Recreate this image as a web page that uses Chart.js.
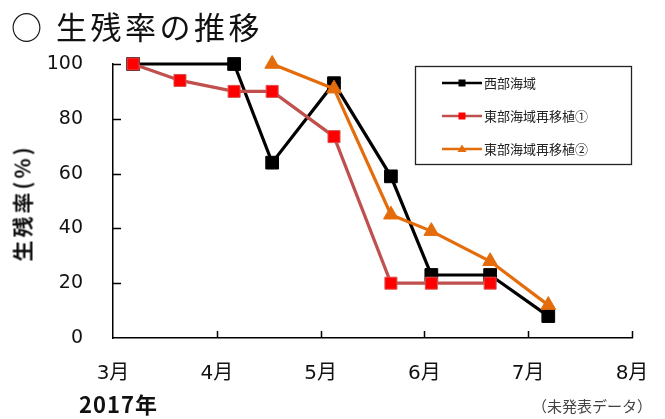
<!DOCTYPE html>
<html>
<head>
<meta charset="utf-8">
<script src="https://cdn.jsdelivr.net/npm/chart.js@4/dist/chart.umd.min.js"></script>
<style>
  html, body { margin: 0; padding: 0; background: #fff; }
  #wrap { position: relative; width: 665px; height: 419px; overflow: hidden; }
  #c { position: absolute; left: 0; top: 0; }
  .t { position: absolute; white-space: nowrap; font-family: "Noto Sans CJK JP", "Noto Sans", sans-serif; color: #111; line-height: 1; }
  #ytitle { left: 22px; top: 203px; font-size: 21px; font-weight: bold; letter-spacing: 3px;
            transform: translate(-50%, -50%) rotate(-90deg); }
</style>
</head>
<body>
<div id="wrap">
  <canvas id="c" width="665" height="419"></canvas>
  <div class="t" style="left:11px;top:10px;font-size:31px;letter-spacing:3.5px;">○ 生残率の推移</div>
  <div class="t" id="ytitle">生残率(%)</div>
  <div class="t" style="left:79px;top:392px;font-size:22px;font-weight:bold;letter-spacing:1px;">2017年</div>
  <div class="t" style="left:532px;top:398px;font-size:15px;color:#444;">（未発表データ）</div>
</div>
<script>
// Survey dates (2017, month/day)
const surveyDates = ["3/7", "3/21", "4/6", "4/17", "5/5", "5/22", "6/3", "6/20", "7/7"];

// Survival rate (%) per survey date; null = not surveyed
const westSea      = [100, null, 100, 64, 93,   59, 23, 23, 8];
const eastReplant1 = [100, 94,   90,  90, 73.5, 20, 20, 20, null];
const eastReplant2 = [null, null, null, 100, 91, 45, 39, 28, 12];

const seriesNames = ["西部海域", "東部海域再移植①", "東部海域再移植②"];

// Axis ticks
const monthTicks = [3, 4, 5, 6, 7, 8];
const monthLabels = ["3月", "4月", "5月", "6月", "7月", "8月"];
const rateTicks = [0, 20, 40, 60, 80, 100];

// Date -> fractional month position (e.g. 4/16 -> 4.5)
const daysInMonth2017 = {3: 31, 4: 30, 5: 31, 6: 30, 7: 31, 8: 31};
function monthPos(md) {
  const [m, d] = md.split("/").map(Number);
  return m + (d - 1) / daysInMonth2017[m];
}
function toPoints(values) {
  const pts = [];
  values.forEach((v, i) => { if (v !== null) pts.push({ x: monthPos(surveyDates[i]), y: v }); });
  return pts;
}

const styles = [
  { line: "#000000", fill: "#000000", border: "#000000", shape: "rect", radius: 9 },
  { line: "#C0504D", fill: "#FF0000", border: "#D9534F", shape: "rect", radius: 8.5 },
  { line: "#E46C0A", fill: "#E46C0A", border: "#E46C0A", shape: "triangle", radius: 8.5 }
];
const seriesValues = [westSea, eastReplant1, eastReplant2];

const datasets = seriesValues.map((vals, i) => ({
  label: seriesNames[i],
  data: toPoints(vals),
  borderColor: styles[i].line,
  backgroundColor: styles[i].fill,
  borderWidth: 3.2,
  pointStyle: styles[i].shape,
  pointRadius: styles[i].radius,
  pointHoverRadius: styles[i].radius,
  pointBackgroundColor: styles[i].fill,
  pointBorderColor: styles[i].border,
  pointBorderWidth: 1,
  tension: 0,
  spanGaps: true,
  clip: false,
  order: 2 - i
}));

const numFont = { family: '"DejaVu Sans", "Noto Sans CJK JP", sans-serif', size: 19 };
const monthFont = { family: '"DejaVu Sans", "Noto Sans CJK JP", sans-serif', size: 20 };

// Inward tick marks on both axes
const innerTicks = {
  id: "innerTicks",
  afterDraw(chart) {
    const { ctx, scales: { x, y } } = chart;
    ctx.save();
    ctx.strokeStyle = "#000";
    ctx.lineWidth = 1.5;
    ctx.beginPath();
    monthTicks.slice(1).forEach(v => {
      const px = Math.round(x.getPixelForValue(v)) + 0.5;
      ctx.moveTo(px, chart.chartArea.bottom);
      ctx.lineTo(px, chart.chartArea.bottom - 7);
    });
    rateTicks.slice(1).forEach(v => {
      const py = Math.round(y.getPixelForValue(v)) + 0.5;
      ctx.moveTo(chart.chartArea.left, py);
      ctx.lineTo(chart.chartArea.left + 8, py);
    });
    ctx.stroke();
    ctx.restore();
  }
};

// Boxed legend with line + marker samples
const boxLegend = {
  id: "boxLegend",
  afterDraw(chart) {
    const ctx = chart.ctx;
    const bx = 415.5, by = 66.5, bw = 216, bh = 98;
    ctx.save();
    ctx.strokeStyle = "#222";
    ctx.lineWidth = 1.3;
    ctx.strokeRect(bx, by, bw, bh);
    const rows = [83, 116, 149];
    ctx.font = '13px "Noto Sans CJK JP", sans-serif';
    ctx.textBaseline = "middle";
    ctx.fillStyle = "#222";
    seriesNames.forEach((name, i) => {
      const s = styles[i], ry = rows[i];
      ctx.strokeStyle = s.line;
      ctx.lineWidth = 2.5;
      ctx.beginPath();
      ctx.moveTo(442, ry);
      ctx.lineTo(482, ry);
      ctx.stroke();
      ctx.fillStyle = s.fill;
      if (s.shape === "rect") {
        ctx.fillRect(458.5, ry - 3.5, 7, 7);
      } else {
        ctx.beginPath();
        ctx.moveTo(462, ry - 4.5);
        ctx.lineTo(466.5, ry + 3);
        ctx.lineTo(457.5, ry + 3);
        ctx.closePath();
        ctx.fill();
      }
      ctx.fillStyle = "#222";
      ctx.fillText(name, 484, ry + 0.5);
    });
    ctx.restore();
  }
};

new Chart(document.getElementById("c"), {
  type: "line",
  data: { datasets },
  plugins: [innerTicks, boxLegend],
  options: {
    responsive: false,
    animation: false,
    devicePixelRatio: 1,
    layout: { padding: { top: 64, right: 33, left: 0, bottom: 0 } },
    plugins: { legend: { display: false }, tooltip: { enabled: false }, title: { display: false } },
    scales: {
      x: {
        type: "linear",
        min: 3, max: 8,
        afterFit: s => { s.height = 81; s.paddingLeft = 0; s.paddingRight = 0; },
        afterBuildTicks: s => { s.ticks = monthTicks.map(v => ({ value: v })); },
        ticks: {
          callback: v => monthLabels[monthTicks.indexOf(v)],
          font: monthFont, color: "#111", padding: 24, maxRotation: 0, autoSkip: false
        },
        grid: { display: false, drawTicks: false },
        border: { display: true, color: "#000", width: 1.5 }
      },
      y: {
        min: 0, max: 100,
        afterFit: s => { s.width = 113; s.paddingTop = 0; s.paddingBottom = 0; },
        afterBuildTicks: s => { s.ticks = rateTicks.map(v => ({ value: v })); },
        ticks: { font: numFont, color: "#111", padding: 30 },
        grid: { display: false, drawTicks: false },
        border: { display: true, color: "#000", width: 1.5 }
      }
    }
  }
});
</script>
</body>
</html>
